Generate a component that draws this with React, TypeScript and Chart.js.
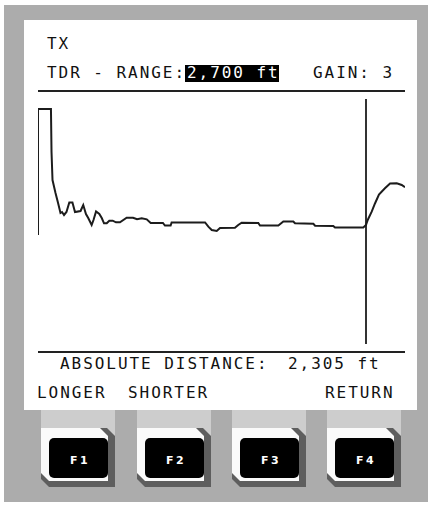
import React, { useEffect, useRef } from "react";
import { Chart, registerables } from "chart.js";
Chart.register(...registerables);

// TDR trace: distance (ft) and echo amplitude (arbitrary units)
const distanceFt = [0,0,91,95,102,123,141,158,169,183,200,220,242,260,299,318,337,353,377,390,408,431,448,464,483,501,525,548,576,623,668,696,729,764,792,878,892,932,939,1174,1197,1221,1256,1279,1384,1407,1431,1548,1560,1689,1724,1794,1806,1935,1947,2075,2087,2286,2305,2317,2345,2368,2396,2438,2474,2521,2556,2579];
const amplitude = [109,235,235,192,164,151,141,131,132,129,132,141.5,141.5,132,133,139,130,126,119,124,132.5,130,126,120.7,120.7,123.3,123.3,121.7,121.7,126.3,126.3,124.7,125.7,124.7,121,121,118.5,118.5,121.5,121.5,117.3,114,113,116,116.3,119,121.3,121,118.5,118.5,122.5,122.5,120.7,120.2,118.3,118,116.5,116.5,119,124,132.3,140.5,149.5,155.7,160.5,160.7,159,156.7];
const cursorFt = 2305;
const windowMaxFt = 2579;
const amplitudeMax = 245;

const headerLabel = "TX";
const rangeLabel = "TDR - RANGE:";
const rangeValue = "2,700 ft";
const gainLabel = "GAIN: 3";
const distanceLabel = "ABSOLUTE DISTANCE:";
const distanceValue = "2,305 ft";
const softKeyLabels = ["LONGER", "SHORTER", "", "RETURN"];
const keyLabels = ["F1", "F2", "F3", "F4"];

const mono = "'DejaVu Sans Mono', 'Liberation Mono', monospace";

const textStyle = (left: number, top: number): React.CSSProperties => ({
  position: "absolute",
  left,
  top,
  font: `16px ${mono}`,
  lineHeight: "16px",
  letterSpacing: "1.95px",
  color: "#111",
  whiteSpace: "pre",
});

function Key({ left, label }: { left: number; label: string }) {
  const chamfer = "polygon(0 0, calc(100% - 8px) 0, 100% 8px, 100% 100%, 8px 100%, 0 calc(100% - 8px))";
  return (
    <>
      <div style={{ position: "absolute", left, top: 410, width: 74, height: 30, background: "#cdcdcd" }} />
      <div style={{ position: "absolute", left, top: 428, width: 74, height: 59, background: "#5e5e5e", clipPath: chamfer }} />
      <div style={{ position: "absolute", left, top: 428, width: 67, height: 53, background: "#fafafa", clipPath: chamfer }} />
      <div
        style={{
          position: "absolute",
          left: left + 8,
          top: 438,
          width: 59,
          height: 40,
          background: "#000",
          borderRadius: 5,
          color: "#fff",
          font: "bold 11px 'DejaVu Sans', sans-serif",
          letterSpacing: "2.5px",
          display: "flex",
          alignItems: "center",
          justifyContent: "center",
          paddingLeft: 3,
          paddingTop: 4,
          boxSizing: "border-box",
        }}
      >
        {label}
      </div>
    </>
  );
}

export default function App() {
  const canvasRef = useRef<HTMLCanvasElement | null>(null);

  useEffect(() => {
    document.body.style.margin = "0";
    if (!canvasRef.current) return;
    const trace = distanceFt.map((x, i) => ({ x, y: amplitude[i] }));
    const cursor = [
      { x: cursorFt, y: 0 },
      { x: cursorFt, y: amplitudeMax },
    ];
    const chart = new Chart(canvasRef.current, {
      type: "line",
      data: {
        datasets: [
          {
            label: "TDR trace",
            data: trace,
            borderColor: "#1c1c1c",
            borderWidth: 2,
            pointRadius: 0,
            tension: 0,
            fill: false,
          },
          {
            label: "Cursor",
            data: cursor,
            borderColor: "#333",
            borderWidth: 2,
            pointRadius: 0,
            fill: false,
          },
        ],
      },
      options: {
        animation: false,
        responsive: false,
        layout: { padding: { left: 38, right: 27, top: 99, bottom: 164 } },
        plugins: { legend: { display: false }, tooltip: { enabled: false } },
        scales: {
          x: { type: "linear", min: 0, max: windowMaxFt, display: false },
          y: { type: "linear", min: 0, max: amplitudeMax, display: false },
        },
      },
    });
    return () => chart.destroy();
  }, []);

  const keyLefts = [41, 137, 232, 327];
  const softLefts = [37, 128, 0, 325];

  return (
    <div style={{ position: "fixed", left: 0, top: 0, width: 432, height: 508, background: "#fff", overflow: "hidden" }}>
      <div style={{ position: "absolute", left: 4, top: 5, width: 424, height: 497, background: "#acacac" }} />
      {keyLefts.map((l, i) => (
        <Key key={i} left={l} label={keyLabels[i]} />
      ))}
      <div style={{ position: "absolute", left: 24, top: 20, width: 393, height: 390, background: "#fff" }} />
      <div style={textStyle(47, 36)}>{headerLabel}</div>
      <div style={textStyle(47, 65)}>{rangeLabel}</div>
      <div style={{ position: "absolute", left: 185, top: 65, width: 94, height: 17, background: "#000" }} />
      <div style={{ ...textStyle(187, 65), color: "#fff" }}>{rangeValue}</div>
      <div style={textStyle(313, 65)}>{gainLabel}</div>
      <div style={{ position: "absolute", left: 38, top: 90, width: 367, height: 2, background: "#222" }} />
      <div style={{ position: "absolute", left: 38, top: 351, width: 367, height: 2, background: "#222" }} />
      <div style={textStyle(60, 356)}>{distanceLabel}</div>
      <div style={textStyle(288, 356)}>{distanceValue}</div>
      {softKeyLabels.map((t, i) =>
        t ? (
          <div key={i} style={textStyle(softLefts[i], 385)}>
            {t}
          </div>
        ) : null
      )}
      <canvas ref={canvasRef} width={432} height={508} style={{ position: "absolute", left: 0, top: 0 }} />
    </div>
  );
}
